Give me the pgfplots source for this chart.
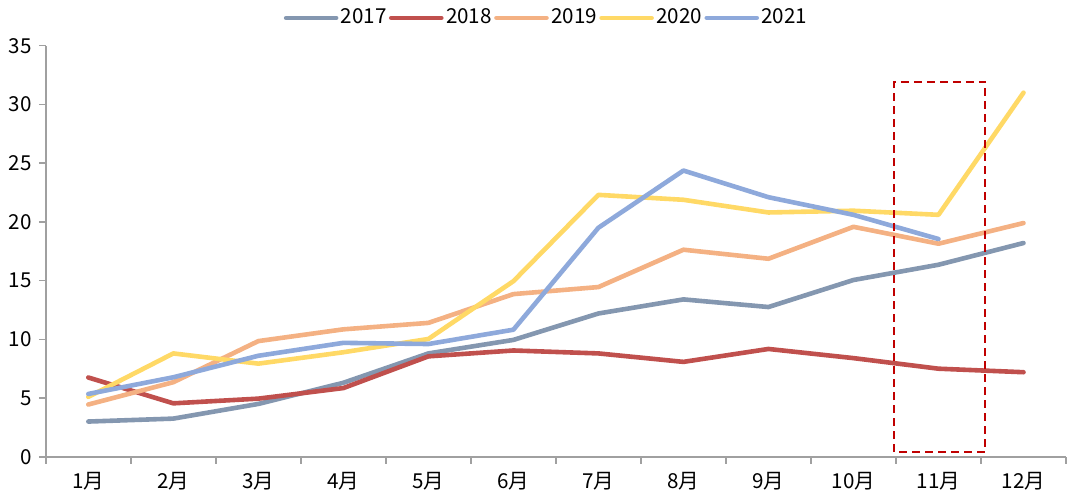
\documentclass[border=0pt]{standalone}
\usepackage{pgfplots}
\pgfplotsset{compat=1.18}
\usepackage{fontspec}
\setmainfont{Noto Sans CJK SC}
\usetikzlibrary{calc}
\definecolor{c17}{HTML}{8497B0}
\definecolor{c18}{HTML}{C0504D}
\definecolor{c19}{HTML}{F4B183}
\definecolor{c20}{HTML}{FFD966}
\definecolor{c21}{HTML}{8EA9DB}
\definecolor{boxred}{HTML}{C00000}
\definecolor{axgray}{HTML}{A0A0A0}
\begin{document}
\begin{tikzpicture}
\begin{axis}[
  scale only axis,
  width=510pt, height=205.5pt,
  xmin=-0.5, xmax=11.5,
  ymin=0, ymax=35,
  axis lines=left,
  axis line style={axgray, line width=0.75pt, -},
  xtick={0,...,11},
  xticklabels={1月,2月,3月,4月,5月,6月,7月,8月,9月,10月,11月,12月},
  major x tick style={draw=none},
  minor xtick={-0.5,0.5,...,11.5},
  minor x tick style={axgray, line width=0.75pt},
  minor tick length=3.5pt,
  ytick={0,5,...,35},
  major tick length=3.5pt,
  y tick style={axgray, line width=0.75pt},
  tick align=outside,
  tick pos=left,
  /pgf/number format/assume math mode=true,
  tick label style={font=\fontsize{10.3}{11}\selectfont, text=black},
  xticklabel style={yshift=-0.5pt},
  legend columns=5,
  legend style={at={(0.491,1)}, anchor=center, yshift=13.9pt, draw=none, fill=none,
    font=\fontsize{10.3}{11}\selectfont, column sep=0pt, inner sep=0pt,
    nodes={inner sep=1.2pt}},
  legend cell align=left,
  legend image code/.code={\draw[#1, line cap=round] (0pt,0pt) -- (25pt,0pt);},
  every axis plot/.append style={line width=2.3pt, line join=round, line cap=round, mark=none},
]
\addplot[c17] coordinates {(0,3.0) (1,3.25) (2,4.5) (3,6.3) (4,8.8) (5,9.95) (6,12.2) (7,13.4) (8,12.75) (9,15.05) (10,16.35) (11,18.2)};
\addlegendentry{2017}
\addplot[c18] coordinates {(0,6.75) (1,4.55) (2,4.95) (3,5.85) (4,8.55) (5,9.05) (6,8.8) (7,8.08) (8,9.18) (9,8.4) (10,7.5) (11,7.2)};
\addlegendentry{2018}
\addplot[c19] coordinates {(0,4.45) (1,6.35) (2,9.85) (3,10.85) (4,11.4) (5,13.85) (6,14.45) (7,17.63) (8,16.86) (9,19.58) (10,18.14) (11,19.9)};
\addlegendentry{2019}
\addplot[c20] coordinates {(0,5.1) (1,8.8) (2,7.93) (3,8.9) (4,10.03) (5,14.95) (6,22.3) (7,21.88) (8,20.8) (9,20.95) (10,20.6) (11,31.0)};
\addlegendentry{2020}
\addplot[c21] coordinates {(0,5.35) (1,6.77) (2,8.6) (3,9.7) (4,9.6) (5,10.82) (6,19.5) (7,24.37) (8,22.1) (9,20.6) (10,18.54)};
\addlegendentry{2021}
\draw[boxred, line width=1pt, dash pattern=on 4pt off 2.5pt] (axis cs:9.48,0.4) rectangle (axis cs:10.55,31.94);
\end{axis}
\pgfresetboundingbox
\path ($(current axis.south west)+(-22.9pt,-19.85pt)$) rectangle ($(current axis.north east)+(7pt,22.85pt)$);
\end{tikzpicture}
\end{document}
